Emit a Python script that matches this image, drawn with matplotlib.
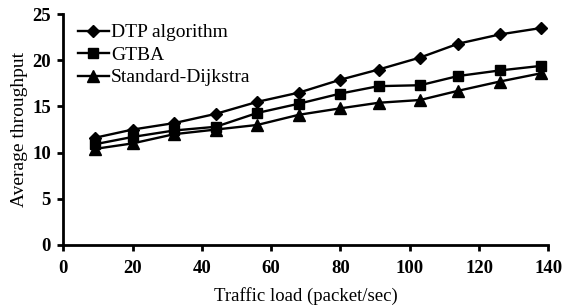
import matplotlib
matplotlib.use("Agg")
import matplotlib.pyplot as plt

# traffic load (packet/sec)
traffic_load = [9, 20, 32, 44, 56, 68, 80, 91, 103, 114, 126, 138]

# average throughput per algorithm
dtp = [11.6, 12.5, 13.2, 14.2, 15.5, 16.5, 17.9, 19.0, 20.3, 21.8, 22.8, 23.5]
gtba = [10.9, 11.7, 12.4, 12.8, 14.3, 15.3, 16.4, 17.2, 17.3, 18.3, 18.9, 19.4]
dijkstra = [10.4, 11.0, 12.0, 12.5, 13.0, 14.1, 14.8, 15.4, 15.7, 16.7, 17.7, 18.6]

x_ticks = [0, 20, 40, 60, 80, 100, 120, 140]
y_ticks = [0, 5, 10, 15, 20, 25]

plt.rcParams['font.family'] = ['Liberation Serif', 'DejaVu Serif']

fig = plt.figure(figsize=(5.62, 3.07), dpi=100)
ax = fig.add_axes([0.1127, 0.202, 0.8629, 0.752])

ax.plot(traffic_load, dtp, color='black', lw=1.7, marker='D', ms=6.5, label='DTP algorithm')
ax.plot(traffic_load, gtba, color='black', lw=1.7, marker='s', ms=7, label='GTBA')
ax.plot(traffic_load, dijkstra, color='black', lw=1.7, marker='^', ms=8, label='Standard-Dijkstra')

ax.set_xlim(0, 140)
ax.set_ylim(0, 25)
ax.set_xticks(x_ticks)
ax.set_yticks(y_ticks)

for side in ['top', 'right']:
    ax.spines[side].set_visible(False)
for side in ['left', 'bottom']:
    ax.spines[side].set_linewidth(2)

ax.tick_params(direction='out', length=4, width=2, labelsize=13.5)
ax.tick_params(axis='x', pad=7)
ax.tick_params(axis='y', pad=5)
for lbl in ax.get_xticklabels() + ax.get_yticklabels():
    lbl.set_fontweight('bold')

ax.set_xlabel('Traffic load (packet/sec)', fontsize=13.5, labelpad=7)
ax.set_ylabel('Average throughput', fontsize=14, labelpad=3)

ax.legend(loc='upper left', frameon=False, fontsize=14, handlelength=1.6,
          handletextpad=0.1, labelspacing=0.25, borderaxespad=0.1,
          bbox_to_anchor=(0.01, 1.0))

fig.savefig('out.png', dpi=100)
